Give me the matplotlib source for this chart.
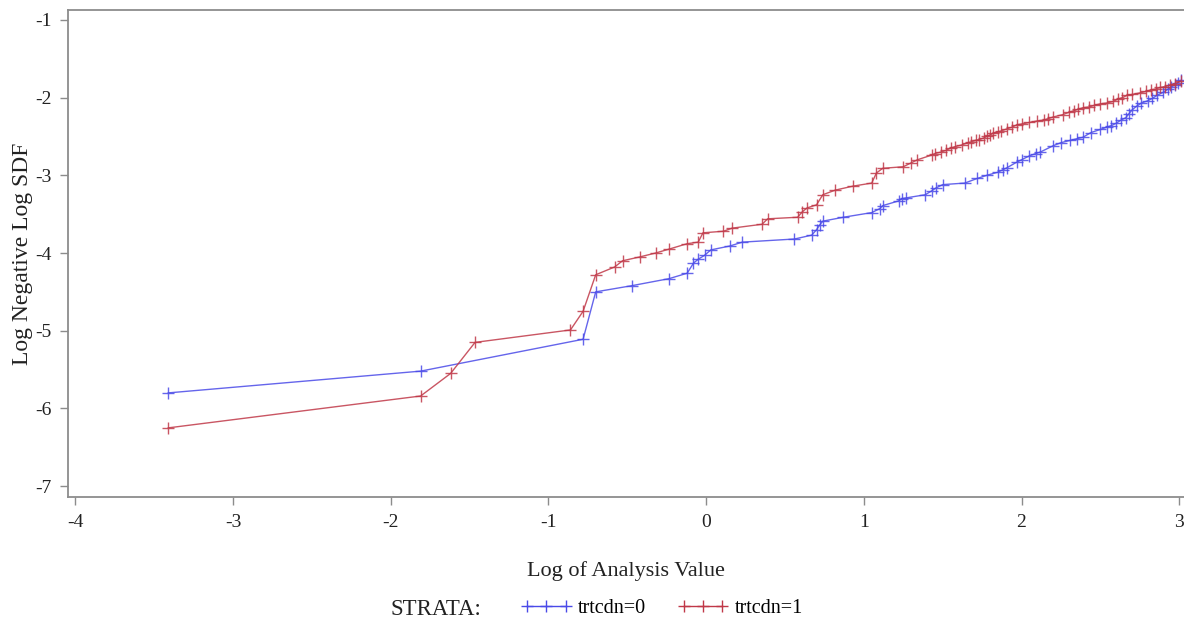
import matplotlib
matplotlib.use("Agg")
import matplotlib.pyplot as plt
from matplotlib.lines import Line2D

# Log of analysis value vs log(-log SDF), one series per stratum
x_trt0 = [-3.41, -1.81, -0.78, -0.70, -0.47, -0.235, -0.12, -0.08, -0.05, -0.01,
          0.03, 0.15, 0.23, 0.56, 0.67, 0.70, 0.72, 0.74, 0.87, 1.05,
          1.10, 1.12, 1.22, 1.24, 1.27, 1.39, 1.43, 1.46, 1.50, 1.64,
          1.72, 1.78, 1.85, 1.88, 1.91, 1.97, 2.00, 2.05, 2.09, 2.12,
          2.20, 2.25, 2.31, 2.35, 2.39, 2.44, 2.50, 2.54, 2.57, 2.60,
          2.63, 2.66, 2.68, 2.70, 2.73, 2.76, 2.80, 2.83, 2.86, 2.90,
          2.93, 2.95, 2.97, 2.99, 3.01]
y_trt0 = [-5.80, -5.52, -5.11, -4.50, -4.42, -4.33, -4.26, -4.13, -4.08, -4.03,
          -3.96, -3.91, -3.86, -3.82, -3.77, -3.70, -3.64, -3.59, -3.54, -3.48,
          -3.43, -3.39, -3.33, -3.30, -3.29, -3.25, -3.20, -3.16, -3.12, -3.10,
          -3.04, -3.00, -2.96, -2.93, -2.90, -2.83, -2.80, -2.75, -2.72, -2.70,
          -2.62, -2.58, -2.55, -2.53, -2.51, -2.45, -2.41, -2.38, -2.36, -2.33,
          -2.29, -2.26, -2.21, -2.16, -2.11, -2.07, -2.04, -2.01, -1.97, -1.93,
          -1.89, -1.86, -1.84, -1.81, -1.78]

x_trt1 = [-3.41, -1.81, -1.62, -1.465, -0.86, -0.78, -0.70, -0.58, -0.53, -0.42,
          -0.32, -0.235, -0.12, -0.05, -0.02, 0.11, 0.165, 0.355, 0.39, 0.58,
          0.61, 0.64, 0.70, 0.74, 0.82, 0.93, 1.05, 1.08, 1.12, 1.25,
          1.30, 1.34, 1.43, 1.45, 1.49, 1.52, 1.55, 1.58, 1.62, 1.66,
          1.68, 1.71, 1.73, 1.76, 1.78, 1.80, 1.82, 1.85, 1.87, 1.91,
          1.94, 1.97, 2.00, 2.05, 2.10, 2.14, 2.17, 2.20, 2.26, 2.30,
          2.33, 2.36, 2.39, 2.43, 2.46, 2.50, 2.54, 2.58, 2.61, 2.64,
          2.67, 2.70, 2.75, 2.79, 2.82, 2.85, 2.88, 2.91, 2.94, 2.97,
          3.01]
y_trt1 = [-6.25, -5.84, -5.55, -5.15, -4.99, -4.75, -4.28, -4.18, -4.10, -4.05,
          -4.00, -3.95, -3.88, -3.86, -3.74, -3.72, -3.68, -3.63, -3.56, -3.54,
          -3.47, -3.42, -3.38, -3.25, -3.19, -3.14, -3.10, -2.97, -2.91, -2.89,
          -2.84, -2.80, -2.74, -2.72, -2.70, -2.68, -2.65, -2.63, -2.61, -2.58,
          -2.57, -2.55, -2.54, -2.52, -2.50, -2.48, -2.46, -2.44, -2.43, -2.40,
          -2.38, -2.35, -2.34, -2.32, -2.30, -2.29, -2.27, -2.25, -2.22, -2.19,
          -2.17, -2.15, -2.13, -2.12, -2.10, -2.08, -2.07, -2.05, -2.02, -2.00,
          -1.97, -1.96, -1.94, -1.92, -1.90, -1.89, -1.87, -1.86, -1.84, -1.82,
          -1.79]

x_ticks = [-4, -3, -2, -1, 0, 1, 2, 3]
y_ticks = [-7, -6, -5, -4, -3, -2, -1]
strata_labels = ["trtcdn=0", "trtcdn=1"]

BLUE = "#4a4ae8"
RED = "#c03848"
SPINE = "#8c8c8c"
TEXT = "#222222"

plt.rcParams["font.family"] = ["Liberation Serif", "DejaVu Serif"]

fig = plt.figure(figsize=(11.84, 6.23), dpi=100)
ax = fig.add_axes([0.0574, 0.2022, 0.9426, 0.782])

style = dict(marker="+", markersize=8, markeredgewidth=1.0, linewidth=1.0, alpha=0.85)
ax.plot(x_trt0, y_trt0, color=BLUE, **style)
ax.plot(x_trt1, y_trt1, color=RED, **style)

ax.set_xlim(-4.046, 3.03)
ax.set_ylim(-7.14, -0.871)
ax.set_xticks(x_ticks)
ax.set_yticks(y_ticks)
ax.set_xticklabels([str(t) for t in x_ticks])
ax.set_yticklabels([str(t) for t in y_ticks])

for side in ["left", "bottom", "top"]:
    ax.spines[side].set_color(SPINE)
    ax.spines[side].set_linewidth(1.3)
ax.spines["right"].set_visible(False)
ax.tick_params(direction="out", length=6, width=1.0, color=SPINE,
               labelsize=14, labelcolor=TEXT, pad=6)

ax.set_xlabel("Log of Analysis Value", fontsize=16, color=TEXT, labelpad=22)
ax.set_ylabel("Log Negative Log SDF", fontsize=17, color=TEXT, labelpad=1)

handles = [
    Line2D([], [], color=BLUE, marker="+", markersize=8, linewidth=1.0),
    Line2D([], [], color=RED, marker="+", markersize=8, linewidth=1.0),
]
fig.text(0.33, 0.021, "STRATA:", fontsize=16.5, color=TEXT, ha="left", va="center")
fig.legend(handles, strata_labels, loc="center left", bbox_to_anchor=(0.425, 0.024),
           ncol=2, frameon=False, fontsize=14.5, numpoints=3, handlelength=2.5,
           columnspacing=1.6, handletextpad=0.3)

fig.savefig("out.png", dpi=100, facecolor="white")
